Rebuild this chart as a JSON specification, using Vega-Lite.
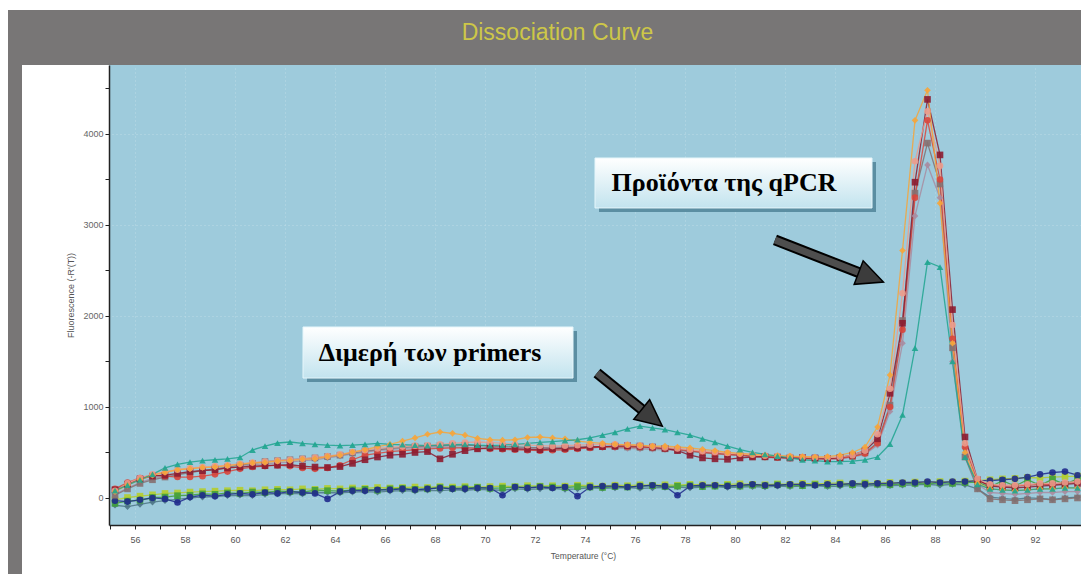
{
"$schema": "https://vega.github.io/schema/vega-lite/v6.json",
"background": "white",
"padding": {"left": 8, "top": 10, "right": 0, "bottom": 0},
"config": {"view": {"stroke": null}},
"datasets": {
"curves": [
{"s":"K","t":55.2,"f":-80},{"s":"K","t":55.7,"f":-95},{"s":"K","t":56.2,"f":-70},{"s":"K","t":56.7,"f":-45},{"s":"K","t":57.2,"f":-30},{"s":"K","t":57.7,"f":-15},{"s":"K","t":58.2,"f":0},{"s":"K","t":58.7,"f":10},{"s":"K","t":59.2,"f":15},{"s":"K","t":59.7,"f":25},{"s":"K","t":60.2,"f":30},{"s":"K","t":60.7,"f":25},{"s":"K","t":61.2,"f":40},{"s":"K","t":61.7,"f":45},{"s":"K","t":62.2,"f":50},{"s":"K","t":62.7,"f":45},{"s":"K","t":63.2,"f":55},{"s":"K","t":63.7,"f":60},{"s":"K","t":64.2,"f":55},{"s":"K","t":64.7,"f":65},{"s":"K","t":65.2,"f":70},{"s":"K","t":65.7,"f":65},{"s":"K","t":66.2,"f":75},{"s":"K","t":66.7,"f":80},{"s":"K","t":67.2,"f":75},{"s":"K","t":67.7,"f":85},{"s":"K","t":68.2,"f":80},{"s":"K","t":68.7,"f":90},{"s":"K","t":69.2,"f":85},{"s":"K","t":69.7,"f":95},{"s":"K","t":70.2,"f":90},{"s":"K","t":70.7,"f":85},{"s":"K","t":71.2,"f":100},{"s":"K","t":71.7,"f":95},{"s":"K","t":72.2,"f":100},{"s":"K","t":72.7,"f":105},{"s":"K","t":73.2,"f":95},{"s":"K","t":73.7,"f":100},{"s":"K","t":74.2,"f":110},{"s":"K","t":74.7,"f":105},{"s":"K","t":75.2,"f":110},{"s":"K","t":75.7,"f":115},{"s":"K","t":76.2,"f":105},{"s":"K","t":76.7,"f":110},{"s":"K","t":77.2,"f":115},{"s":"K","t":77.7,"f":120},{"s":"K","t":78.2,"f":110},{"s":"K","t":78.7,"f":120},{"s":"K","t":79.2,"f":125},{"s":"K","t":79.7,"f":115},{"s":"K","t":80.2,"f":120},{"s":"K","t":80.7,"f":125},{"s":"K","t":81.2,"f":120},{"s":"K","t":81.7,"f":130},{"s":"K","t":82.2,"f":125},{"s":"K","t":82.7,"f":130},{"s":"K","t":83.2,"f":135},{"s":"K","t":83.7,"f":125},{"s":"K","t":84.2,"f":130},{"s":"K","t":84.7,"f":135},{"s":"K","t":85.2,"f":130},{"s":"K","t":85.7,"f":140},{"s":"K","t":86.2,"f":135},{"s":"K","t":86.7,"f":140},{"s":"K","t":87.2,"f":145},{"s":"K","t":87.7,"f":150},{"s":"K","t":88.2,"f":140},{"s":"K","t":88.7,"f":150},{"s":"K","t":89.2,"f":145},{"s":"K","t":89.7,"f":100},{"s":"K","t":90.2,"f":10},{"s":"K","t":90.7,"f":-5},{"s":"K","t":91.2,"f":-15},{"s":"K","t":91.7,"f":0},{"s":"K","t":92.2,"f":-5},{"s":"K","t":92.7,"f":-15},{"s":"K","t":93.2,"f":0},{"s":"K","t":93.7,"f":10},
{"s":"J","t":55.2,"f":-20},{"s":"J","t":55.7,"f":5},{"s":"J","t":56.2,"f":20},{"s":"J","t":56.7,"f":35},{"s":"J","t":57.2,"f":50},{"s":"J","t":57.7,"f":55},{"s":"J","t":58.2,"f":65},{"s":"J","t":58.7,"f":70},{"s":"J","t":59.2,"f":75},{"s":"J","t":59.7,"f":80},{"s":"J","t":60.2,"f":85},{"s":"J","t":60.7,"f":80},{"s":"J","t":61.2,"f":90},{"s":"J","t":61.7,"f":95},{"s":"J","t":62.2,"f":90},{"s":"J","t":62.7,"f":100},{"s":"J","t":63.2,"f":95},{"s":"J","t":63.7,"f":105},{"s":"J","t":64.2,"f":100},{"s":"J","t":64.7,"f":110},{"s":"J","t":65.2,"f":105},{"s":"J","t":65.7,"f":115},{"s":"J","t":66.2,"f":110},{"s":"J","t":66.7,"f":115},{"s":"J","t":67.2,"f":120},{"s":"J","t":67.7,"f":115},{"s":"J","t":68.2,"f":125},{"s":"J","t":68.7,"f":120},{"s":"J","t":69.2,"f":125},{"s":"J","t":69.7,"f":120},{"s":"J","t":70.2,"f":125},{"s":"J","t":70.7,"f":130},{"s":"J","t":71.2,"f":125},{"s":"J","t":71.7,"f":135},{"s":"J","t":72.2,"f":130},{"s":"J","t":72.7,"f":135},{"s":"J","t":73.2,"f":130},{"s":"J","t":73.7,"f":140},{"s":"J","t":74.2,"f":135},{"s":"J","t":74.7,"f":130},{"s":"J","t":75.2,"f":140},{"s":"J","t":75.7,"f":135},{"s":"J","t":76.2,"f":145},{"s":"J","t":76.7,"f":140},{"s":"J","t":77.2,"f":145},{"s":"J","t":77.7,"f":140},{"s":"J","t":78.2,"f":150},{"s":"J","t":78.7,"f":145},{"s":"J","t":79.2,"f":140},{"s":"J","t":79.7,"f":150},{"s":"J","t":80.2,"f":155},{"s":"J","t":80.7,"f":150},{"s":"J","t":81.2,"f":145},{"s":"J","t":81.7,"f":155},{"s":"J","t":82.2,"f":150},{"s":"J","t":82.7,"f":160},{"s":"J","t":83.2,"f":155},{"s":"J","t":83.7,"f":160},{"s":"J","t":84.2,"f":165},{"s":"J","t":84.7,"f":155},{"s":"J","t":85.2,"f":165},{"s":"J","t":85.7,"f":160},{"s":"J","t":86.2,"f":170},{"s":"J","t":86.7,"f":165},{"s":"J","t":87.2,"f":175},{"s":"J","t":87.7,"f":170},{"s":"J","t":88.2,"f":180},{"s":"J","t":88.7,"f":175},{"s":"J","t":89.2,"f":185},{"s":"J","t":89.7,"f":190},{"s":"J","t":90.2,"f":200},{"s":"J","t":90.7,"f":210},{"s":"J","t":91.2,"f":215},{"s":"J","t":91.7,"f":225},{"s":"J","t":92.2,"f":220},{"s":"J","t":92.7,"f":230},{"s":"J","t":93.2,"f":235},{"s":"J","t":93.7,"f":240},
{"s":"I","t":55.2,"f":-60},{"s":"I","t":55.7,"f":-35},{"s":"I","t":56.2,"f":-25},{"s":"I","t":56.7,"f":5},{"s":"I","t":57.2,"f":10},{"s":"I","t":57.7,"f":25},{"s":"I","t":58.2,"f":30},{"s":"I","t":58.7,"f":45},{"s":"I","t":59.2,"f":40},{"s":"I","t":59.7,"f":55},{"s":"I","t":60.2,"f":50},{"s":"I","t":60.7,"f":65},{"s":"I","t":61.2,"f":60},{"s":"I","t":61.7,"f":75},{"s":"I","t":62.2,"f":70},{"s":"I","t":62.7,"f":65},{"s":"I","t":63.2,"f":85},{"s":"I","t":63.7,"f":80},{"s":"I","t":64.2,"f":75},{"s":"I","t":64.7,"f":90},{"s":"I","t":65.2,"f":95},{"s":"I","t":65.7,"f":85},{"s":"I","t":66.2,"f":100},{"s":"I","t":66.7,"f":105},{"s":"I","t":67.2,"f":95},{"s":"I","t":67.7,"f":100},{"s":"I","t":68.2,"f":115},{"s":"I","t":68.7,"f":105},{"s":"I","t":69.2,"f":110},{"s":"I","t":69.7,"f":115},{"s":"I","t":70.2,"f":105},{"s":"I","t":70.7,"f":110},{"s":"I","t":71.2,"f":120},{"s":"I","t":71.7,"f":115},{"s":"I","t":72.2,"f":125},{"s":"I","t":72.7,"f":120},{"s":"I","t":73.2,"f":115},{"s":"I","t":73.7,"f":125},{"s":"I","t":74.2,"f":120},{"s":"I","t":74.7,"f":115},{"s":"I","t":75.2,"f":125},{"s":"I","t":75.7,"f":120},{"s":"I","t":76.2,"f":130},{"s":"I","t":76.7,"f":135},{"s":"I","t":77.2,"f":125},{"s":"I","t":77.7,"f":130},{"s":"I","t":78.2,"f":135},{"s":"I","t":78.7,"f":125},{"s":"I","t":79.2,"f":130},{"s":"I","t":79.7,"f":135},{"s":"I","t":80.2,"f":130},{"s":"I","t":80.7,"f":140},{"s":"I","t":81.2,"f":135},{"s":"I","t":81.7,"f":145},{"s":"I","t":82.2,"f":140},{"s":"I","t":82.7,"f":135},{"s":"I","t":83.2,"f":145},{"s":"I","t":83.7,"f":140},{"s":"I","t":84.2,"f":150},{"s":"I","t":84.7,"f":145},{"s":"I","t":85.2,"f":155},{"s":"I","t":85.7,"f":150},{"s":"I","t":86.2,"f":145},{"s":"I","t":86.7,"f":155},{"s":"I","t":87.2,"f":160},{"s":"I","t":87.7,"f":155},{"s":"I","t":88.2,"f":165},{"s":"I","t":88.7,"f":160},{"s":"I","t":89.2,"f":170},{"s":"I","t":89.7,"f":175},{"s":"I","t":90.2,"f":120},{"s":"I","t":90.7,"f":190},{"s":"I","t":91.2,"f":130},{"s":"I","t":91.7,"f":200},{"s":"I","t":92.2,"f":140},{"s":"I","t":92.7,"f":205},{"s":"I","t":93.2,"f":150},{"s":"I","t":93.7,"f":210},
{"s":"H","t":55.2,"f":-30},{"s":"H","t":55.7,"f":-40},{"s":"H","t":56.2,"f":-20},{"s":"H","t":56.7,"f":0},{"s":"H","t":57.2,"f":-10},{"s":"H","t":57.7,"f":-50},{"s":"H","t":58.2,"f":10},{"s":"H","t":58.7,"f":30},{"s":"H","t":59.2,"f":20},{"s":"H","t":59.7,"f":40},{"s":"H","t":60.2,"f":50},{"s":"H","t":60.7,"f":40},{"s":"H","t":61.2,"f":60},{"s":"H","t":61.7,"f":50},{"s":"H","t":62.2,"f":70},{"s":"H","t":62.7,"f":60},{"s":"H","t":63.2,"f":50},{"s":"H","t":63.7,"f":-10},{"s":"H","t":64.2,"f":70},{"s":"H","t":64.7,"f":80},{"s":"H","t":65.2,"f":80},{"s":"H","t":65.7,"f":90},{"s":"H","t":66.2,"f":90},{"s":"H","t":66.7,"f":100},{"s":"H","t":67.2,"f":90},{"s":"H","t":67.7,"f":100},{"s":"H","t":68.2,"f":110},{"s":"H","t":68.7,"f":100},{"s":"H","t":69.2,"f":100},{"s":"H","t":69.7,"f":110},{"s":"H","t":70.2,"f":110},{"s":"H","t":70.7,"f":30},{"s":"H","t":71.2,"f":120},{"s":"H","t":71.7,"f":110},{"s":"H","t":72.2,"f":120},{"s":"H","t":72.7,"f":110},{"s":"H","t":73.2,"f":120},{"s":"H","t":73.7,"f":20},{"s":"H","t":74.2,"f":120},{"s":"H","t":74.7,"f":130},{"s":"H","t":75.2,"f":130},{"s":"H","t":75.7,"f":120},{"s":"H","t":76.2,"f":130},{"s":"H","t":76.7,"f":140},{"s":"H","t":77.2,"f":130},{"s":"H","t":77.7,"f":30},{"s":"H","t":78.2,"f":130},{"s":"H","t":78.7,"f":140},{"s":"H","t":79.2,"f":140},{"s":"H","t":79.7,"f":130},{"s":"H","t":80.2,"f":140},{"s":"H","t":80.7,"f":150},{"s":"H","t":81.2,"f":140},{"s":"H","t":81.7,"f":140},{"s":"H","t":82.2,"f":150},{"s":"H","t":82.7,"f":150},{"s":"H","t":83.2,"f":140},{"s":"H","t":83.7,"f":150},{"s":"H","t":84.2,"f":150},{"s":"H","t":84.7,"f":160},{"s":"H","t":85.2,"f":150},{"s":"H","t":85.7,"f":160},{"s":"H","t":86.2,"f":160},{"s":"H","t":86.7,"f":170},{"s":"H","t":87.2,"f":170},{"s":"H","t":87.7,"f":180},{"s":"H","t":88.2,"f":170},{"s":"H","t":88.7,"f":180},{"s":"H","t":89.2,"f":180},{"s":"H","t":89.7,"f":190},{"s":"H","t":90.2,"f":190},{"s":"H","t":90.7,"f":200},{"s":"H","t":91.2,"f":210},{"s":"H","t":91.7,"f":230},{"s":"H","t":92.2,"f":260},{"s":"H","t":92.7,"f":280},{"s":"H","t":93.2,"f":290},{"s":"H","t":93.7,"f":250},
{"s":"C","t":55.2,"f":40},{"s":"C","t":55.7,"f":110},{"s":"C","t":56.2,"f":170},{"s":"C","t":56.7,"f":215},{"s":"C","t":57.2,"f":240},{"s":"C","t":57.7,"f":265},{"s":"C","t":58.2,"f":280},{"s":"C","t":58.7,"f":305},{"s":"C","t":59.2,"f":315},{"s":"C","t":59.7,"f":330},{"s":"C","t":60.2,"f":345},{"s":"C","t":60.7,"f":365},{"s":"C","t":61.2,"f":375},{"s":"C","t":61.7,"f":385},{"s":"C","t":62.2,"f":395},{"s":"C","t":62.7,"f":410},{"s":"C","t":63.2,"f":420},{"s":"C","t":63.7,"f":440},{"s":"C","t":64.2,"f":460},{"s":"C","t":64.7,"f":485},{"s":"C","t":65.2,"f":505},{"s":"C","t":65.7,"f":520},{"s":"C","t":66.2,"f":535},{"s":"C","t":66.7,"f":545},{"s":"C","t":67.2,"f":550},{"s":"C","t":67.7,"f":555},{"s":"C","t":68.2,"f":560},{"s":"C","t":68.7,"f":560},{"s":"C","t":69.2,"f":555},{"s":"C","t":69.7,"f":550},{"s":"C","t":70.2,"f":545},{"s":"C","t":70.7,"f":540},{"s":"C","t":71.2,"f":540},{"s":"C","t":71.7,"f":545},{"s":"C","t":72.2,"f":550},{"s":"C","t":72.7,"f":555},{"s":"C","t":73.2,"f":560},{"s":"C","t":73.7,"f":565},{"s":"C","t":74.2,"f":560},{"s":"C","t":74.7,"f":555},{"s":"C","t":75.2,"f":550},{"s":"C","t":75.7,"f":545},{"s":"C","t":76.2,"f":540},{"s":"C","t":76.7,"f":535},{"s":"C","t":77.2,"f":530},{"s":"C","t":77.7,"f":520},{"s":"C","t":78.2,"f":510},{"s":"C","t":78.7,"f":495},{"s":"C","t":79.2,"f":485},{"s":"C","t":79.7,"f":475},{"s":"C","t":80.2,"f":465},{"s":"C","t":80.7,"f":455},{"s":"C","t":81.2,"f":445},{"s":"C","t":81.7,"f":440},{"s":"C","t":82.2,"f":435},{"s":"C","t":82.7,"f":430},{"s":"C","t":83.2,"f":425},{"s":"C","t":83.7,"f":425},{"s":"C","t":84.2,"f":430},{"s":"C","t":84.7,"f":450},{"s":"C","t":85.2,"f":480},{"s":"C","t":85.7,"f":580},{"s":"C","t":86.2,"f":950},{"s":"C","t":86.7,"f":1700},{"s":"C","t":87.2,"f":3100},{"s":"C","t":87.7,"f":3660},{"s":"C","t":88.2,"f":3300},{"s":"C","t":88.7,"f":1500},{"s":"C","t":89.2,"f":480},{"s":"C","t":89.7,"f":150},{"s":"C","t":90.2,"f":60},{"s":"C","t":90.7,"f":50},{"s":"C","t":91.2,"f":40},{"s":"C","t":91.7,"f":50},{"s":"C","t":92.2,"f":60},{"s":"C","t":92.7,"f":60},{"s":"C","t":93.2,"f":70},{"s":"C","t":93.7,"f":70},
{"s":"E","t":55.2,"f":30},{"s":"E","t":55.7,"f":100},{"s":"E","t":56.2,"f":160},{"s":"E","t":56.7,"f":200},{"s":"E","t":57.2,"f":230},{"s":"E","t":57.7,"f":255},{"s":"E","t":58.2,"f":280},{"s":"E","t":58.7,"f":300},{"s":"E","t":59.2,"f":320},{"s":"E","t":59.7,"f":340},{"s":"E","t":60.2,"f":360},{"s":"E","t":60.7,"f":380},{"s":"E","t":61.2,"f":400},{"s":"E","t":61.7,"f":410},{"s":"E","t":62.2,"f":420},{"s":"E","t":62.7,"f":430},{"s":"E","t":63.2,"f":440},{"s":"E","t":63.7,"f":455},{"s":"E","t":64.2,"f":470},{"s":"E","t":64.7,"f":495},{"s":"E","t":65.2,"f":515},{"s":"E","t":65.7,"f":530},{"s":"E","t":66.2,"f":545},{"s":"E","t":66.7,"f":555},{"s":"E","t":67.2,"f":565},{"s":"E","t":67.7,"f":570},{"s":"E","t":68.2,"f":575},{"s":"E","t":68.7,"f":580},{"s":"E","t":69.2,"f":580},{"s":"E","t":69.7,"f":575},{"s":"E","t":70.2,"f":570},{"s":"E","t":70.7,"f":565},{"s":"E","t":71.2,"f":560},{"s":"E","t":71.7,"f":555},{"s":"E","t":72.2,"f":550},{"s":"E","t":72.7,"f":548},{"s":"E","t":73.2,"f":550},{"s":"E","t":73.7,"f":555},{"s":"E","t":74.2,"f":560},{"s":"E","t":74.7,"f":565},{"s":"E","t":75.2,"f":565},{"s":"E","t":75.7,"f":560},{"s":"E","t":76.2,"f":555},{"s":"E","t":76.7,"f":550},{"s":"E","t":77.2,"f":540},{"s":"E","t":77.7,"f":530},{"s":"E","t":78.2,"f":515},{"s":"E","t":78.7,"f":500},{"s":"E","t":79.2,"f":490},{"s":"E","t":79.7,"f":480},{"s":"E","t":80.2,"f":470},{"s":"E","t":80.7,"f":460},{"s":"E","t":81.2,"f":450},{"s":"E","t":81.7,"f":445},{"s":"E","t":82.2,"f":440},{"s":"E","t":82.7,"f":438},{"s":"E","t":83.2,"f":435},{"s":"E","t":83.7,"f":435},{"s":"E","t":84.2,"f":440},{"s":"E","t":84.7,"f":455},{"s":"E","t":85.2,"f":495},{"s":"E","t":85.7,"f":610},{"s":"E","t":86.2,"f":1020},{"s":"E","t":86.7,"f":1950},{"s":"E","t":87.2,"f":3350},{"s":"E","t":87.7,"f":3900},{"s":"E","t":88.2,"f":3450},{"s":"E","t":88.7,"f":1650},{"s":"E","t":89.2,"f":450},{"s":"E","t":89.7,"f":100},{"s":"E","t":90.2,"f":-10},{"s":"E","t":90.7,"f":-20},{"s":"E","t":91.2,"f":-30},{"s":"E","t":91.7,"f":-20},{"s":"E","t":92.2,"f":-10},{"s":"E","t":92.7,"f":-20},{"s":"E","t":93.2,"f":-10},{"s":"E","t":93.7,"f":0},
{"s":"D","t":55.2,"f":100},{"s":"D","t":55.7,"f":170},{"s":"D","t":56.2,"f":220},{"s":"D","t":56.7,"f":250},{"s":"D","t":57.2,"f":240},{"s":"D","t":57.7,"f":230},{"s":"D","t":58.2,"f":230},{"s":"D","t":58.7,"f":240},{"s":"D","t":59.2,"f":260},{"s":"D","t":59.7,"f":290},{"s":"D","t":60.2,"f":320},{"s":"D","t":60.7,"f":340},{"s":"D","t":61.2,"f":350},{"s":"D","t":61.7,"f":360},{"s":"D","t":62.2,"f":350},{"s":"D","t":62.7,"f":330},{"s":"D","t":63.2,"f":320},{"s":"D","t":63.7,"f":330},{"s":"D","t":64.2,"f":360},{"s":"D","t":64.7,"f":420},{"s":"D","t":65.2,"f":470},{"s":"D","t":65.7,"f":490},{"s":"D","t":66.2,"f":510},{"s":"D","t":66.7,"f":520},{"s":"D","t":67.2,"f":530},{"s":"D","t":67.7,"f":540},{"s":"D","t":68.2,"f":545},{"s":"D","t":68.7,"f":550},{"s":"D","t":69.2,"f":550},{"s":"D","t":69.7,"f":545},{"s":"D","t":70.2,"f":540},{"s":"D","t":70.7,"f":535},{"s":"D","t":71.2,"f":530},{"s":"D","t":71.7,"f":525},{"s":"D","t":72.2,"f":520},{"s":"D","t":72.7,"f":525},{"s":"D","t":73.2,"f":530},{"s":"D","t":73.7,"f":540},{"s":"D","t":74.2,"f":550},{"s":"D","t":74.7,"f":560},{"s":"D","t":75.2,"f":565},{"s":"D","t":75.7,"f":565},{"s":"D","t":76.2,"f":560},{"s":"D","t":76.7,"f":555},{"s":"D","t":77.2,"f":545},{"s":"D","t":77.7,"f":535},{"s":"D","t":78.2,"f":520},{"s":"D","t":78.7,"f":505},{"s":"D","t":79.2,"f":490},{"s":"D","t":79.7,"f":480},{"s":"D","t":80.2,"f":470},{"s":"D","t":80.7,"f":460},{"s":"D","t":81.2,"f":450},{"s":"D","t":81.7,"f":445},{"s":"D","t":82.2,"f":440},{"s":"D","t":82.7,"f":435},{"s":"D","t":83.2,"f":430},{"s":"D","t":83.7,"f":430},{"s":"D","t":84.2,"f":435},{"s":"D","t":84.7,"f":455},{"s":"D","t":85.2,"f":490},{"s":"D","t":85.7,"f":600},{"s":"D","t":86.2,"f":1000},{"s":"D","t":86.7,"f":1850},{"s":"D","t":87.2,"f":3300},{"s":"D","t":87.7,"f":4150},{"s":"D","t":88.2,"f":3500},{"s":"D","t":88.7,"f":1750},{"s":"D","t":89.2,"f":560},{"s":"D","t":89.7,"f":190},{"s":"D","t":90.2,"f":140},{"s":"D","t":90.7,"f":130},{"s":"D","t":91.2,"f":130},{"s":"D","t":91.7,"f":140},{"s":"D","t":92.2,"f":150},{"s":"D","t":92.7,"f":150},{"s":"D","t":93.2,"f":160},{"s":"D","t":93.7,"f":170},
{"s":"A","t":55.2,"f":90},{"s":"A","t":55.7,"f":150},{"s":"A","t":56.2,"f":210},{"s":"A","t":56.7,"f":240},{"s":"A","t":57.2,"f":250},{"s":"A","t":57.7,"f":270},{"s":"A","t":58.2,"f":290},{"s":"A","t":58.7,"f":300},{"s":"A","t":59.2,"f":310},{"s":"A","t":59.7,"f":330},{"s":"A","t":60.2,"f":340},{"s":"A","t":60.7,"f":350},{"s":"A","t":61.2,"f":355},{"s":"A","t":61.7,"f":360},{"s":"A","t":62.2,"f":365},{"s":"A","t":62.7,"f":350},{"s":"A","t":63.2,"f":340},{"s":"A","t":63.7,"f":335},{"s":"A","t":64.2,"f":345},{"s":"A","t":64.7,"f":380},{"s":"A","t":65.2,"f":420},{"s":"A","t":65.7,"f":450},{"s":"A","t":66.2,"f":470},{"s":"A","t":66.7,"f":480},{"s":"A","t":67.2,"f":500},{"s":"A","t":67.7,"f":510},{"s":"A","t":68.2,"f":430},{"s":"A","t":68.7,"f":480},{"s":"A","t":69.2,"f":520},{"s":"A","t":69.7,"f":540},{"s":"A","t":70.2,"f":550},{"s":"A","t":70.7,"f":545},{"s":"A","t":71.2,"f":540},{"s":"A","t":71.7,"f":535},{"s":"A","t":72.2,"f":530},{"s":"A","t":72.7,"f":540},{"s":"A","t":73.2,"f":545},{"s":"A","t":73.7,"f":550},{"s":"A","t":74.2,"f":560},{"s":"A","t":74.7,"f":565},{"s":"A","t":75.2,"f":570},{"s":"A","t":75.7,"f":575},{"s":"A","t":76.2,"f":570},{"s":"A","t":76.7,"f":560},{"s":"A","t":77.2,"f":545},{"s":"A","t":77.7,"f":520},{"s":"A","t":78.2,"f":470},{"s":"A","t":78.7,"f":440},{"s":"A","t":79.2,"f":430},{"s":"A","t":79.7,"f":425},{"s":"A","t":80.2,"f":440},{"s":"A","t":80.7,"f":450},{"s":"A","t":81.2,"f":455},{"s":"A","t":81.7,"f":450},{"s":"A","t":82.2,"f":440},{"s":"A","t":82.7,"f":445},{"s":"A","t":83.2,"f":440},{"s":"A","t":83.7,"f":430},{"s":"A","t":84.2,"f":445},{"s":"A","t":84.7,"f":470},{"s":"A","t":85.2,"f":520},{"s":"A","t":85.7,"f":650},{"s":"A","t":86.2,"f":1150},{"s":"A","t":86.7,"f":1920},{"s":"A","t":87.2,"f":3470},{"s":"A","t":87.7,"f":4380},{"s":"A","t":88.2,"f":3770},{"s":"A","t":88.7,"f":2070},{"s":"A","t":89.2,"f":670},{"s":"A","t":89.7,"f":200},{"s":"A","t":90.2,"f":130},{"s":"A","t":90.7,"f":120},{"s":"A","t":91.2,"f":110},{"s":"A","t":91.7,"f":120},{"s":"A","t":92.2,"f":130},{"s":"A","t":92.7,"f":140},{"s":"A","t":93.2,"f":150},{"s":"A","t":93.7,"f":160},
{"s":"F","t":55.2,"f":80},{"s":"F","t":55.7,"f":160},{"s":"F","t":56.2,"f":220},{"s":"F","t":56.7,"f":260},{"s":"F","t":57.2,"f":290},{"s":"F","t":57.7,"f":310},{"s":"F","t":58.2,"f":330},{"s":"F","t":58.7,"f":340},{"s":"F","t":59.2,"f":350},{"s":"F","t":59.7,"f":360},{"s":"F","t":60.2,"f":375},{"s":"F","t":60.7,"f":390},{"s":"F","t":61.2,"f":400},{"s":"F","t":61.7,"f":410},{"s":"F","t":62.2,"f":420},{"s":"F","t":62.7,"f":430},{"s":"F","t":63.2,"f":445},{"s":"F","t":63.7,"f":460},{"s":"F","t":64.2,"f":480},{"s":"F","t":64.7,"f":505},{"s":"F","t":65.2,"f":525},{"s":"F","t":65.7,"f":545},{"s":"F","t":66.2,"f":555},{"s":"F","t":66.7,"f":565},{"s":"F","t":67.2,"f":575},{"s":"F","t":67.7,"f":580},{"s":"F","t":68.2,"f":590},{"s":"F","t":68.7,"f":600},{"s":"F","t":69.2,"f":610},{"s":"F","t":69.7,"f":615},{"s":"F","t":70.2,"f":610},{"s":"F","t":70.7,"f":600},{"s":"F","t":71.2,"f":590},{"s":"F","t":71.7,"f":580},{"s":"F","t":72.2,"f":575},{"s":"F","t":72.7,"f":570},{"s":"F","t":73.2,"f":575},{"s":"F","t":73.7,"f":580},{"s":"F","t":74.2,"f":585},{"s":"F","t":74.7,"f":590},{"s":"F","t":75.2,"f":590},{"s":"F","t":75.7,"f":585},{"s":"F","t":76.2,"f":575},{"s":"F","t":76.7,"f":565},{"s":"F","t":77.2,"f":555},{"s":"F","t":77.7,"f":545},{"s":"F","t":78.2,"f":530},{"s":"F","t":78.7,"f":515},{"s":"F","t":79.2,"f":505},{"s":"F","t":79.7,"f":495},{"s":"F","t":80.2,"f":485},{"s":"F","t":80.7,"f":475},{"s":"F","t":81.2,"f":465},{"s":"F","t":81.7,"f":460},{"s":"F","t":82.2,"f":455},{"s":"F","t":82.7,"f":450},{"s":"F","t":83.2,"f":445},{"s":"F","t":83.7,"f":445},{"s":"F","t":84.2,"f":450},{"s":"F","t":84.7,"f":470},{"s":"F","t":85.2,"f":520},{"s":"F","t":85.7,"f":700},{"s":"F","t":86.2,"f":1200},{"s":"F","t":86.7,"f":2250},{"s":"F","t":87.2,"f":3700},{"s":"F","t":87.7,"f":4250},{"s":"F","t":88.2,"f":3650},{"s":"F","t":88.7,"f":1900},{"s":"F","t":89.2,"f":600},{"s":"F","t":89.7,"f":210},{"s":"F","t":90.2,"f":150},{"s":"F","t":90.7,"f":140},{"s":"F","t":91.2,"f":140},{"s":"F","t":91.7,"f":150},{"s":"F","t":92.2,"f":160},{"s":"F","t":92.7,"f":160},{"s":"F","t":93.2,"f":170},{"s":"F","t":93.7,"f":180},
{"s":"B","t":55.2,"f":70},{"s":"B","t":55.7,"f":140},{"s":"B","t":56.2,"f":200},{"s":"B","t":56.7,"f":250},{"s":"B","t":57.2,"f":280},{"s":"B","t":57.7,"f":310},{"s":"B","t":58.2,"f":320},{"s":"B","t":58.7,"f":335},{"s":"B","t":59.2,"f":340},{"s":"B","t":59.7,"f":355},{"s":"B","t":60.2,"f":370},{"s":"B","t":60.7,"f":385},{"s":"B","t":61.2,"f":390},{"s":"B","t":61.7,"f":405},{"s":"B","t":62.2,"f":410},{"s":"B","t":62.7,"f":425},{"s":"B","t":63.2,"f":430},{"s":"B","t":63.7,"f":455},{"s":"B","t":64.2,"f":470},{"s":"B","t":64.7,"f":505},{"s":"B","t":65.2,"f":530},{"s":"B","t":65.7,"f":565},{"s":"B","t":66.2,"f":590},{"s":"B","t":66.7,"f":625},{"s":"B","t":67.2,"f":660},{"s":"B","t":67.7,"f":700},{"s":"B","t":68.2,"f":725},{"s":"B","t":68.7,"f":710},{"s":"B","t":69.2,"f":690},{"s":"B","t":69.7,"f":655},{"s":"B","t":70.2,"f":640},{"s":"B","t":70.7,"f":635},{"s":"B","t":71.2,"f":640},{"s":"B","t":71.7,"f":665},{"s":"B","t":72.2,"f":670},{"s":"B","t":72.7,"f":660},{"s":"B","t":73.2,"f":650},{"s":"B","t":73.7,"f":625},{"s":"B","t":74.2,"f":610},{"s":"B","t":74.7,"f":600},{"s":"B","t":75.2,"f":590},{"s":"B","t":75.7,"f":585},{"s":"B","t":76.2,"f":580},{"s":"B","t":76.7,"f":570},{"s":"B","t":77.2,"f":570},{"s":"B","t":77.7,"f":560},{"s":"B","t":78.2,"f":550},{"s":"B","t":78.7,"f":535},{"s":"B","t":79.2,"f":520},{"s":"B","t":79.7,"f":500},{"s":"B","t":80.2,"f":490},{"s":"B","t":80.7,"f":480},{"s":"B","t":81.2,"f":470},{"s":"B","t":81.7,"f":465},{"s":"B","t":82.2,"f":460},{"s":"B","t":82.7,"f":455},{"s":"B","t":83.2,"f":450},{"s":"B","t":83.7,"f":455},{"s":"B","t":84.2,"f":470},{"s":"B","t":84.7,"f":500},{"s":"B","t":85.2,"f":560},{"s":"B","t":85.7,"f":780},{"s":"B","t":86.2,"f":1350},{"s":"B","t":86.7,"f":2720},{"s":"B","t":87.2,"f":4150},{"s":"B","t":87.7,"f":4480},{"s":"B","t":88.2,"f":3240},{"s":"B","t":88.7,"f":1700},{"s":"B","t":89.2,"f":500},{"s":"B","t":89.7,"f":160},{"s":"B","t":90.2,"f":100},{"s":"B","t":90.7,"f":90},{"s":"B","t":91.2,"f":80},{"s":"B","t":91.7,"f":90},{"s":"B","t":92.2,"f":100},{"s":"B","t":92.7,"f":100},{"s":"B","t":93.2,"f":110},{"s":"B","t":93.7,"f":110},
{"s":"G","t":55.2,"f":80},{"s":"G","t":55.7,"f":140},{"s":"G","t":56.2,"f":200},{"s":"G","t":56.7,"f":260},{"s":"G","t":57.2,"f":330},{"s":"G","t":57.7,"f":370},{"s":"G","t":58.2,"f":395},{"s":"G","t":58.7,"f":410},{"s":"G","t":59.2,"f":420},{"s":"G","t":59.7,"f":430},{"s":"G","t":60.2,"f":445},{"s":"G","t":60.7,"f":527},{"s":"G","t":61.2,"f":570},{"s":"G","t":61.7,"f":604},{"s":"G","t":62.2,"f":615},{"s":"G","t":62.7,"f":600},{"s":"G","t":63.2,"f":590},{"s":"G","t":63.7,"f":580},{"s":"G","t":64.2,"f":575},{"s":"G","t":64.7,"f":580},{"s":"G","t":65.2,"f":590},{"s":"G","t":65.7,"f":600},{"s":"G","t":66.2,"f":590},{"s":"G","t":66.7,"f":585},{"s":"G","t":67.2,"f":580},{"s":"G","t":67.7,"f":575},{"s":"G","t":68.2,"f":580},{"s":"G","t":68.7,"f":585},{"s":"G","t":69.2,"f":590},{"s":"G","t":69.7,"f":580},{"s":"G","t":70.2,"f":575},{"s":"G","t":70.7,"f":580},{"s":"G","t":71.2,"f":590},{"s":"G","t":71.7,"f":600},{"s":"G","t":72.2,"f":610},{"s":"G","t":72.7,"f":620},{"s":"G","t":73.2,"f":630},{"s":"G","t":73.7,"f":640},{"s":"G","t":74.2,"f":660},{"s":"G","t":74.7,"f":690},{"s":"G","t":75.2,"f":720},{"s":"G","t":75.7,"f":760},{"s":"G","t":76.2,"f":790},{"s":"G","t":76.7,"f":770},{"s":"G","t":77.2,"f":750},{"s":"G","t":77.7,"f":720},{"s":"G","t":78.2,"f":690},{"s":"G","t":78.7,"f":650},{"s":"G","t":79.2,"f":610},{"s":"G","t":79.7,"f":570},{"s":"G","t":80.2,"f":530},{"s":"G","t":80.7,"f":500},{"s":"G","t":81.2,"f":480},{"s":"G","t":81.7,"f":460},{"s":"G","t":82.2,"f":440},{"s":"G","t":82.7,"f":420},{"s":"G","t":83.2,"f":410},{"s":"G","t":83.7,"f":400},{"s":"G","t":84.2,"f":400},{"s":"G","t":84.7,"f":405},{"s":"G","t":85.2,"f":418},{"s":"G","t":85.7,"f":450},{"s":"G","t":86.2,"f":593},{"s":"G","t":86.7,"f":912},{"s":"G","t":87.2,"f":1648},{"s":"G","t":87.7,"f":2593},{"s":"G","t":88.2,"f":2538},{"s":"G","t":88.7,"f":1500},{"s":"G","t":89.2,"f":450},{"s":"G","t":89.7,"f":150},{"s":"G","t":90.2,"f":100},{"s":"G","t":90.7,"f":90},{"s":"G","t":91.2,"f":80},{"s":"G","t":91.7,"f":90},{"s":"G","t":92.2,"f":100},{"s":"G","t":92.7,"f":100},{"s":"G","t":93.2,"f":110},{"s":"G","t":93.7,"f":110}
],
"boxes": [
{"t": 74.4, "t2": 85.48, "f": 3736, "f2": 3187},
{"t": 62.72, "t2": 73.52, "f": 1879, "f2": 1318}
],
"notes": [
{"label": "Προϊόντα της qPCR", "t": 79.56, "f": 3461},
{"label": "Διμερή των primers", "t": 67.8, "f": 1593}
],
"shafts": [
{"t": 81.6, "f": 2835, "t2": 85.44, "f2": 2425},
{"t": 74.48, "f": 1373, "t2": 76.68, "f2": 881}
]
},
"vconcat": [
{
"width": 1073, "height": 55,
"view": {"fill": "#787676", "stroke": null},
"data": {"values": [{"title": "Dissociation Curve"}]},
"mark": {"type": "text", "font": "Liberation Sans", "fontSize": 23, "color": "#cdc748", "dx": 13, "dy": -5, "align": "center", "baseline": "middle"},
"encoding": {"text": {"field": "title", "type": "nominal"}}
},
{
"bounds": "flush",
"spacing": 87,
"hconcat": [
{
"width": 14, "height": 509,
"view": {"fill": "#787676", "stroke": null},
"data": {"values": [{"v": 0}]},
"mark": {"type": "point", "opacity": 0}
},
{
"width": 972, "height": 460,
"view": {"fill": "#9ecbdc", "stroke": null},
"resolve": {"axis": {"x": "independent", "y": "independent"}},
"layer": [
{
"data": {"name": "curves"},
"mark": {"type": "line", "strokeWidth": 1.3, "opacity": 0.85, "clip": true},
"encoding": {
"x": {"field": "t", "type": "quantitative", "scale": {"domain": [54.96, 93.84], "nice": false, "zero": false},
"axis": {"orient": "top", "values": [56,58,60,62,64,66,68,70,72,74,76,78,80,82,84,86,88,90,92], "grid": true, "gridColor": "#c4e0ea", "gridDash": [1,3], "gridOpacity": 0.8, "labels": false, "ticks": false, "domain": false, "title": null}},
"y": {"field": "f", "type": "quantitative", "scale": {"domain": [-297, 4758], "nice": false, "zero": false},
"axis": {"orient": "right", "values": [0,1000,2000,3000,4000], "grid": true, "gridColor": "#c4e0ea", "gridDash": [1,3], "gridOpacity": 0.8, "labels": false, "ticks": false, "domain": false, "title": null}},
"color": {"field": "s", "type": "nominal", "legend": null,
"scale": {"domain": ["A","B","C","D","E","F","G","H","I","J","K"], "range": ["#8c1c30","#f6a53a","#a88ca0","#d8463c","#857070","#eb9c8c","#1fa58f","#1f2a8c","#3f9f3c","#b4cd2c","#4c7686"]}}
}
},
{
"data": {"name": "curves"},
"mark": {"type": "point", "filled": true, "size": 44, "opacity": 0.9, "clip": true},
"encoding": {
"x": {"field": "t", "type": "quantitative", "scale": {"domain": [54.96, 93.84], "nice": false, "zero": false},
"axis": {"orient": "bottom", "values": [55,56,57,58,59,60,61,62,63,64,65,66,67,68,69,70,71,72,73,74,75,76,77,78,79,80,81,82,83,84,85,86,87,88,89,90,91,92,93], "format": "d", "labelExpr": "datum.value % 2 == 0 ? datum.label : ''", "grid": false, "tickSize": 4, "tickColor": "#222222", "domainColor": "#222222", "domainWidth": 1.5, "labelFont": "Liberation Sans", "labelFontSize": 9, "labelColor": "#555555", "labelPadding": 6, "labelFlush": false, "labelOverlap": false, "labelBound": false, "title": "Temperature (°C)", "titleFont": "Liberation Sans", "titleFontSize": 8.5, "titleFontWeight": "normal", "titleColor": "#555555", "titlePadding": 7, "titleX": 474}},
"y": {"field": "f", "type": "quantitative", "scale": {"domain": [-297, 4758], "nice": false, "zero": false},
"axis": {"orient": "left", "values": [0,500,1000,1500,2000,2500,3000,3500,4000,4500], "format": "d", "labelExpr": "datum.value % 1000 == 0 ? datum.label : ''", "grid": false, "tickSize": 4, "tickColor": "#222222", "domainColor": "#222222", "domainWidth": 1.5, "labelFont": "Liberation Sans", "labelFontSize": 9, "labelColor": "#666666", "labelPadding": 2, "labelFlush": false, "labelOverlap": false, "title": "Fluorescence (-R'(T))", "titleFont": "Liberation Sans", "titleFontSize": 9, "titleFontWeight": "normal", "titleColor": "#555555", "titlePadding": 7}},
"color": {"field": "s", "type": "nominal", "legend": null,
"scale": {"domain": ["A","B","C","D","E","F","G","H","I","J","K"], "range": ["#8c1c30","#f6a53a","#a88ca0","#d8463c","#857070","#eb9c8c","#1fa58f","#1f2a8c","#3f9f3c","#b4cd2c","#4c7686"]}},
"shape": {"field": "s", "type": "nominal", "legend": null,
"scale": {"domain": ["A","B","C","D","E","F","G","H","I","J","K"], "range": ["square","diamond","diamond","circle","square","circle","triangle-up","circle","square","square","diamond"]}}
}
},
{
"data": {"name": "boxes"},
"mark": {"type": "rect", "fill": "#5b8ea2", "xOffset": 4, "x2Offset": 4, "yOffset": 4, "y2Offset": 4},
"encoding": {
"x": {"field": "t", "type": "quantitative", "scale": {"domain": [54.96, 93.84], "nice": false, "zero": false}, "axis": null},
"x2": {"field": "t2"},
"y": {"field": "f", "type": "quantitative", "scale": {"domain": [-297, 4758], "nice": false, "zero": false}, "axis": null},
"y2": {"field": "f2"}
}
},
{
"data": {"name": "boxes"},
"mark": {"type": "rect", "stroke": "#e6f6fb", "strokeWidth": 1,
"fill": {"gradient": "linear", "x1": 0, "y1": 0, "x2": 0, "y2": 1, "stops": [{"offset": 0, "color": "#ffffff"}, {"offset": 1, "color": "#c2e3ee"}]}},
"encoding": {
"x": {"field": "t", "type": "quantitative", "scale": {"domain": [54.96, 93.84], "nice": false, "zero": false}, "axis": null},
"x2": {"field": "t2"},
"y": {"field": "f", "type": "quantitative", "scale": {"domain": [-297, 4758], "nice": false, "zero": false}, "axis": null},
"y2": {"field": "f2"}
}
},
{
"data": {"name": "notes"},
"mark": {"type": "text", "font": "Liberation Serif", "fontWeight": "bold", "fontSize": 26, "color": "#000000", "align": "center", "baseline": "middle"},
"encoding": {
"x": {"field": "t", "type": "quantitative", "scale": {"domain": [54.96, 93.84], "nice": false, "zero": false}, "axis": null},
"y": {"field": "f", "type": "quantitative", "scale": {"domain": [-297, 4758], "nice": false, "zero": false}, "axis": null},
"text": {"field": "label", "type": "nominal"}
}
},
{
"data": {"name": "shafts"},
"mark": {"type": "rule", "strokeWidth": 11, "color": "#000000"},
"encoding": {
"x": {"field": "t", "type": "quantitative", "scale": {"domain": [54.96, 93.84], "nice": false, "zero": false}, "axis": null},
"x2": {"field": "t2"},
"y": {"field": "f", "type": "quantitative", "scale": {"domain": [-297, 4758], "nice": false, "zero": false}, "axis": null},
"y2": {"field": "f2"}
}
},
{
"data": {"name": "shafts"},
"mark": {"type": "rule", "strokeWidth": 7, "color": "#4e4e4e"},
"encoding": {
"x": {"field": "t", "type": "quantitative", "scale": {"domain": [54.96, 93.84], "nice": false, "zero": false}, "axis": null},
"x2": {"field": "t2"},
"y": {"field": "f", "type": "quantitative", "scale": {"domain": [-297, 4758], "nice": false, "zero": false}, "axis": null},
"y2": {"field": "f2"}
}
},
{
"data": {"values": [{"t": 85.44, "f": 2425}]},
"mark": {"type": "point", "shape": "M1,0L-1,-0.95L-1,0.95Z", "size": 700, "angle": 21, "filled": true, "fill": "#3c3c3c", "stroke": "#000000", "strokeWidth": 1.5, "opacity": 1},
"encoding": {
"x": {"field": "t", "type": "quantitative", "scale": {"domain": [54.96, 93.84], "nice": false, "zero": false}, "axis": null},
"y": {"field": "f", "type": "quantitative", "scale": {"domain": [-297, 4758], "nice": false, "zero": false}, "axis": null}
}
},
{
"data": {"values": [{"t": 76.68, "f": 881}]},
"mark": {"type": "point", "shape": "M1,0L-1,-0.95L-1,0.95Z", "size": 700, "angle": 39, "filled": true, "fill": "#3c3c3c", "stroke": "#000000", "strokeWidth": 1.5, "opacity": 1},
"encoding": {
"x": {"field": "t", "type": "quantitative", "scale": {"domain": [54.96, 93.84], "nice": false, "zero": false}, "axis": null},
"y": {"field": "f", "type": "quantitative", "scale": {"domain": [-297, 4758], "nice": false, "zero": false}, "axis": null}
}
}
]
}
]
}
],
"spacing": 0,
"bounds": "flush"
}
